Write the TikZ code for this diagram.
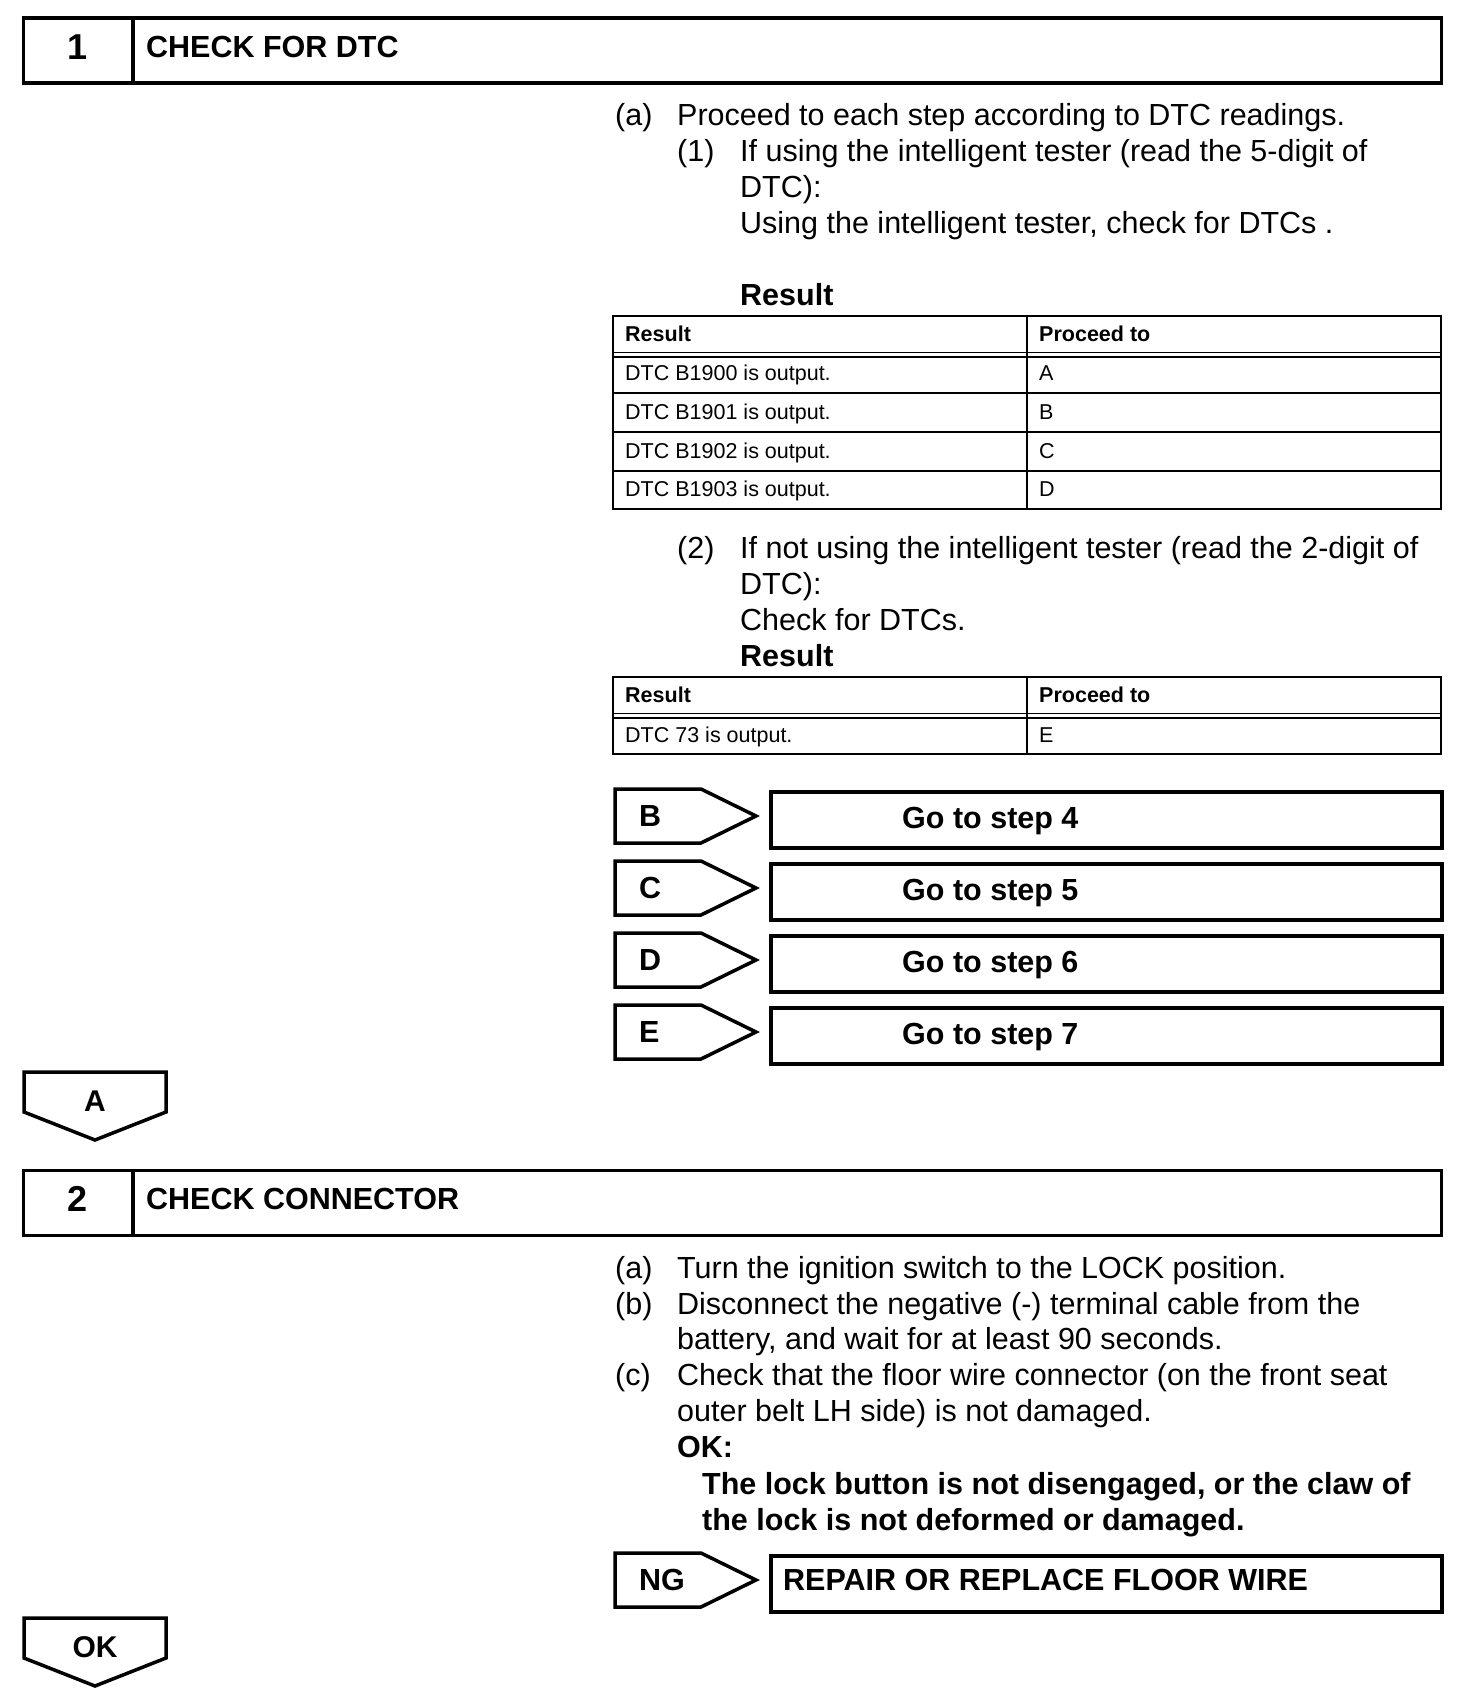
\documentclass[tikz,border=0pt]{standalone}
\usepackage{fontspec}
\setmainfont{Liberation Sans}
\begin{document}
\begin{tikzpicture}[x=1pt,y=-1pt,
  txt/.style={anchor=base west, inner sep=0pt, font=\fontsize{30.5}{36}\selectfont},
  btxt/.style={anchor=base west, inner sep=0pt, font=\fontsize{30.5}{36}\selectfont\bfseries},
  ttxt/.style={anchor=base west, inner sep=0pt, font=\fontsize{21.5}{25}\selectfont},
  thead/.style={anchor=base west, inner sep=0pt, font=\fontsize{21.5}{25}\selectfont\bfseries},
  hnum/.style={anchor=base, inner sep=0pt, font=\fontsize{36}{40}\selectfont\bfseries},
  hbox/.style={draw, line width=3.5pt, anchor=north west, inner sep=0pt, minimum width=1418pt, minimum height=65pt},
  gobox/.style={draw, line width=3.5pt, anchor=north west, inner sep=0pt, minimum width=671pt, minimum height=56pt},
  heavy/.style={line width=3.5pt, line join=miter},
  tframe/.style={line width=2pt},
  tline/.style={line width=1.3pt}
]
\useasboundingbox (0,0) rectangle (1472,1706);

% ---------- Header 1 ----------
\node[hbox] (h1) at (21.5,16) {};
\coordinate (h1dt) at (133,16);
\coordinate (h1db) at (133,81);
\draw[heavy] (h1dt) -- (h1db);
\node[hnum] (n1) at (78,59) {1};
\node[btxt] (t1) at (146,57) {CHECK FOR DTC};

% ---------- Step 1 text ----------
\node[txt] (s1a) at (615,125) {(a)};
\node[txt] (s1at) at (677,125) {Proceed to each step according to DTC readings.};
\node[txt] (s11) at (677,161) {(1)};
\node[txt] (s11a) at (740,161) {If using the intelligent tester (read the 5-digit of};
\node[txt] (s11b) at (740,197) {DTC):};
\node[txt] (s11c) at (740,233) {Using the intelligent tester, check for DTCs .};
\node[btxt] (r1) at (740,305) {Result};

% ---------- Table 1 ----------
\draw[tframe] (612.5,315.5) rectangle (1440.5,509);
\draw[tline] (1027,315.5) -- (1027,509);
\draw[tline] (612.5,352.5) -- (1440.5,352.5);
\draw[tline] (612.5,357) -- (1440.5,357);
\draw[tline] (612.5,393) -- (1440.5,393);
\draw[tline] (612.5,432) -- (1440.5,432);
\draw[tline] (612.5,471) -- (1440.5,471);
\node[thead] (c11) at (625,341) {Result};
\node[thead] (c12) at (1039,341) {Proceed to};
\node[ttxt] (a1) at (625,380.5) {DTC B1900 is output.};
\node[ttxt] (a2) at (1039,380.5) {A};
\node[ttxt] (b1) at (625,419) {DTC B1901 is output.};
\node[ttxt] (b2) at (1039,419) {B};
\node[ttxt] (cc1) at (625,458) {DTC B1902 is output.};
\node[ttxt] (cc2) at (1039,458) {C};
\node[ttxt] (d1) at (625,496.5) {DTC B1903 is output.};
\node[ttxt] (d2) at (1039,496.5) {D};

% ---------- (2) text ----------
\node[txt] (s12) at (677,558) {(2)};
\node[txt] (s12a) at (740,558) {If not using the intelligent tester (read the 2-digit of};
\node[txt] (s12b) at (740,594) {DTC):};
\node[txt] (s12c) at (740,630) {Check for DTCs.};
\node[btxt] (r2) at (740,666) {Result};

% ---------- Table 2 ----------
\draw[tframe] (612.5,676.5) rectangle (1440.5,754);
\draw[tline] (1027,676.5) -- (1027,754);
\draw[tline] (612.5,713.5) -- (1440.5,713.5);
\draw[tline] (612.5,718) -- (1440.5,718);
\node[thead] (e11) at (625,702) {Result};
\node[thead] (e12) at (1039,702) {Proceed to};
\node[ttxt] (e1) at (625,742) {DTC 73 is output.};
\node[ttxt] (e2) at (1039,742) {E};

% ---------- Go-to rows ----------
\foreach \lab/\stp/\y in {B/4/789, C/5/861, D/6/933, E/7/1005}{
  \draw[heavy] (615,\y) -- (701,\y) -- (756,\y+27) -- (701,\y+54) -- (615,\y+54) -- cycle;
  \node[btxt] (tag\lab) at (639,\y+37) {\lab};
  \node[gobox] (go\stp) at (769,\y+1) {};
  \node[btxt] (got\stp) at (902,\y+39) {Go to step \stp};
}

% ---------- A down tag ----------
\draw[heavy] (24,1072) -- (166,1072) -- (166,1112) -- (95,1140) -- (24,1112) -- cycle;
\node[anchor=base, inner sep=0pt, font=\fontsize{30}{36}\selectfont\bfseries] (tagA) at (95,1111) {A};

% ---------- Header 2 ----------
\node[hbox] (h2) at (21.5,1168.5) {};
\coordinate (h2dt) at (133,1168.5);
\coordinate (h2db) at (133,1233.5);
\draw[heavy] (h2dt) -- (h2db);
\node[hnum] (n2) at (78,1211) {2};
\node[btxt] (t2) at (146,1209) {CHECK CONNECTOR};

% ---------- Step 2 text ----------
\node[txt] (s2a) at (615,1278) {(a)};
\node[txt] (s2at) at (677,1278) {Turn the ignition switch to the LOCK position.};
\node[txt] (s2b) at (615,1314) {(b)};
\node[txt] (s2bt) at (677,1314) {Disconnect the negative (-) terminal cable from the};
\node[txt] (s2bu) at (677,1349.5) {battery, and wait for at least 90 seconds.};
\node[txt] (s2c) at (615,1385.5) {(c)};
\node[txt] (s2ct) at (677,1385.5) {Check that the floor wire connector (on the front seat};
\node[txt] (s2cu) at (677,1421) {outer belt LH side) is not damaged.};
\node[btxt] (ok) at (677,1457) {OK:};
\node[btxt] (okt1) at (702,1494) {The lock button is not disengaged, or the claw of};
\node[btxt] (okt2) at (702,1530) {the lock is not deformed or damaged.};

% ---------- NG ----------
\draw[heavy] (615,1553) -- (701,1553) -- (756,1580) -- (701,1607) -- (615,1607) -- cycle;
\node[btxt] (tagNG) at (639,1590) {NG};
\node[gobox] (ngbox) at (769,1554) {};
\node[btxt] (ngt) at (783,1590) {REPAIR OR REPLACE FLOOR WIRE};

% ---------- OK down tag ----------
\draw[heavy] (24,1618) -- (166,1618) -- (166,1658) -- (95,1686) -- (24,1658) -- cycle;
\node[anchor=base, inner sep=0pt, font=\fontsize{30}{36}\selectfont\bfseries] (tagOK) at (95,1657) {OK};
\end{tikzpicture}
\end{document}
